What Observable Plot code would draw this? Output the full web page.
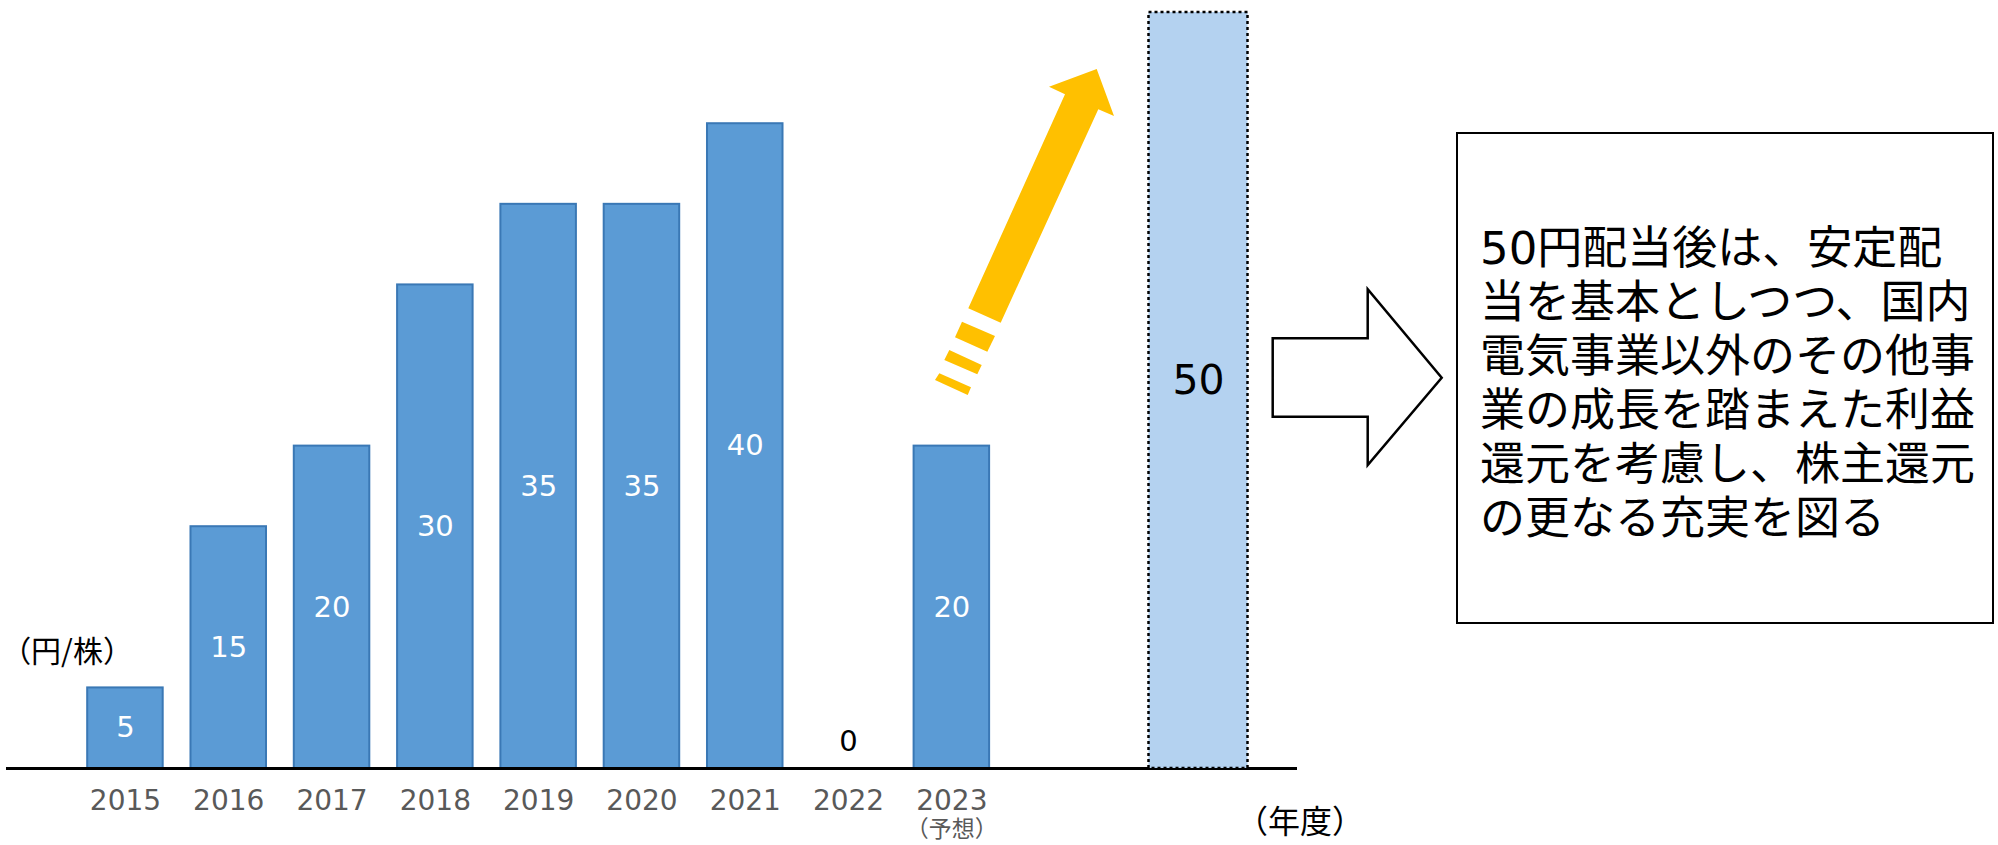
<!DOCTYPE html>
<html>
<head>
<meta charset="utf-8">
<script src="https://cdn.jsdelivr.net/npm/d3@7"></script>
<script src="https://cdn.jsdelivr.net/npm/@observablehq/plot@0.6"></script>
<style>
  html, body { margin: 0; padding: 0; background: #fff; }
  #wrap { position: relative; width: 1998px; height: 845px; overflow: hidden; font-family: "DejaVu Sans", "Noto Sans CJK JP", sans-serif; }
  #wrap > svg { position: absolute; left: 0; top: 0; }
  #msg {
    position: absolute; left: 1456px; top: 132px; width: 538px; height: 492px;
    box-sizing: border-box; border: 2px solid #000; background: #fff;
    display: flex; flex-direction: column; justify-content: center;
    padding: 12px 0 0 22px; font-size: 45px; line-height: 54px; color: #000;
    font-family: "DejaVu Sans", "Noto Sans CJK JP", sans-serif; white-space: nowrap;
  }
</style>
</head>
<body>
<div id="wrap"></div>
<script>
// ---- data ----
const years = ["2015", "2016", "2017", "2018", "2019", "2020", "2021", "2022", "2023"];
const dividends = [5, 15, 20, 30, 35, 35, 40, 0, 20];
const forecastYears = ["2023"];
const forecastNote = "（予想）";
const targetLabels = ["50円配当"];
const targetValues = [50];
const yUnitLabel = "（円/株）";
const xUnitLabel = "（年度）";
const messageLines = [
  "50円配当後は、安定配",
  "当を基本としつつ、国内",
  "電気事業以外のその他事",
  "業の成長を踏まえた利益",
  "還元を考慮し、株主還元",
  "の更なる充実を図る"
];

const rows = years.map((year, i) => ({year, value: dividends[i]}));
const notes = forecastYears.map(year => ({year, note: forecastNote}));
const targets = targetLabels.map((label, i) => ({label, value: targetValues[i]}));

const W = 1998, H = 845;
const font = "'DejaVu Sans', 'Noto Sans CJK JP', sans-serif";
const cjk = "'Noto Sans CJK JP', sans-serif";
const yDomain = [0, 46.9];

const main = Plot.plot({
  width: W, height: H,
  marginTop: 12, marginBottom: 77, marginLeft: 6, marginRight: 701,
  style: {fontFamily: font, background: "transparent", overflow: "visible"},
  x: {type: "band", domain: years, range: [59.4, 1016.9], padding: 0.269, round: false},
  y: {domain: yDomain, axis: null},
  marks: [
    Plot.barY(rows.filter(d => d.value > 0), {x: "year", y: "value", fill: "#5B9BD5", stroke: "#3A78B5", strokeWidth: 2}),
    Plot.ruleY([0], {stroke: "#000", strokeWidth: 3}),
    Plot.axisX({tickSize: 0, tickPadding: 22, fontSize: 28, color: "#595959", label: null}),
    Plot.text(rows.filter(d => d.value > 0), {x: "year", y: d => d.value / 2, text: d => String(d.value), fill: "#fff", fontSize: 29}),
    Plot.text(rows.filter(d => d.value === 0), {x: "year", y: "value", text: d => String(d.value), fill: "#000", fontSize: 29, dy: -27}),
    Plot.text(notes, {x: "year", y: () => 0, text: "note", fill: "#595959", fontSize: 23, fontFamily: cjk, lineAnchor: "middle", dy: 61}),
    Plot.text([yUnitLabel], {frameAnchor: "bottom-left", textAnchor: "middle", lineAnchor: "middle", text: d => d, fontSize: 30, fontFamily: cjk, fill: "#000", dx: 60.5, dy: -116}),
    Plot.text([xUnitLabel], {frameAnchor: "bottom-right", textAnchor: "middle", lineAnchor: "middle", text: d => d, fontSize: 32, fontFamily: cjk, fill: "#000", dx: 2.5, dy: 54})
  ]
});

const future = Plot.plot({
  width: W, height: H,
  marginTop: 12, marginBottom: 77, marginLeft: 0, marginRight: 0,
  style: {fontFamily: font, background: "transparent", overflow: "visible"},
  x: {type: "band", domain: targetLabels, range: [1148.5, 1247.5], padding: 0, round: false, axis: null},
  y: {domain: yDomain, clamp: true, axis: null},
  marks: [
    Plot.barY(targets, {x: "label", y: "value", fill: "#B4D2F0", stroke: "#000", strokeWidth: 2.5, strokeDasharray: "3,3"}),
    Plot.text(targets, {x: "label", y: d => d.value / 2, text: d => String(d.value), fill: "#000", fontSize: 41, dy: 15})
  ]
});

const wrap = document.getElementById("wrap");
wrap.appendChild(main);
wrap.appendChild(future);

// decorative shapes (arrows)
const deco = d3.create("svg").attr("width", W).attr("height", H).attr("viewBox", `0 0 ${W} ${H}`);
const pts = a => a.map(p => p.join(",")).join(" ");
deco.append("polygon")
  .attr("points", pts([[968.3, 308.3], [1065, 94.3], [1049, 86.7], [1096.7, 69], [1114, 116], [1098.3, 109.3], [1000.7, 322.7]]))
  .attr("fill", "#FFC000");
[
  [[962, 321.7], [995, 336], [987.3, 351.7], [955, 337.3]],
  [[949.3, 350], [981.7, 365], [977.3, 374.3], [944.3, 360]],
  [[939.3, 373.3], [971, 387.3], [967.7, 395], [935, 380]]
].forEach(p => deco.append("polygon").attr("points", pts(p)).attr("fill", "#FFC000"));
deco.append("polygon")
  .attr("points", pts([[1272.7, 338.3], [1367.7, 338.3], [1367.7, 289.3], [1441.7, 377.7], [1367.7, 465], [1367.7, 416.7], [1272.7, 416.7]]))
  .attr("fill", "#fff").attr("stroke", "#000").attr("stroke-width", 2.5).attr("stroke-linejoin", "miter");
wrap.appendChild(deco.node());

const msg = document.createElement("div");
msg.id = "msg";
messageLines.forEach(line => {
  const d = document.createElement("div");
  d.textContent = line;
  msg.appendChild(d);
});
wrap.appendChild(msg);
</script>
</body>
</html>
